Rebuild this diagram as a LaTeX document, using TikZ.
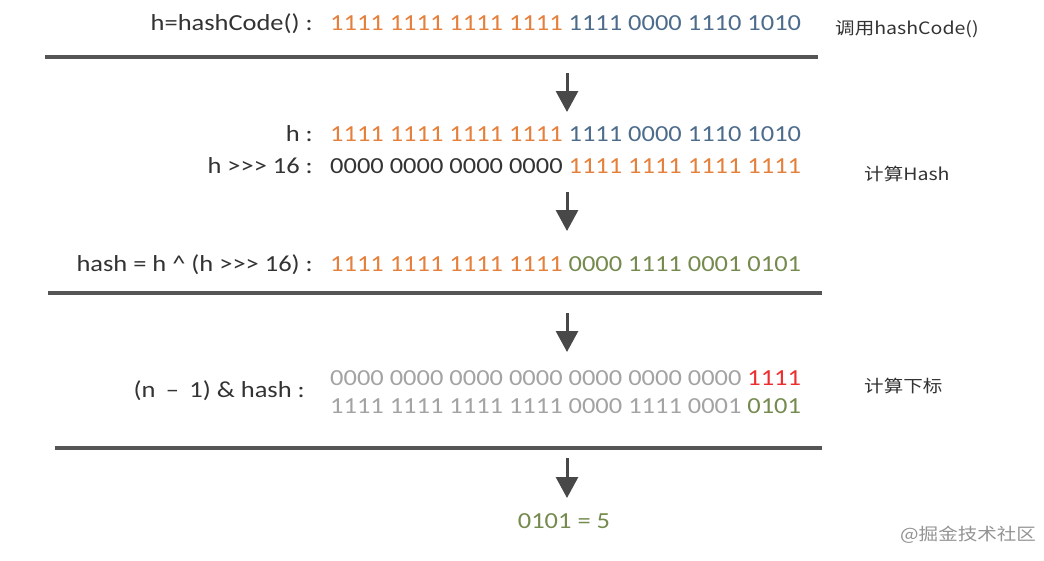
\documentclass[tikz,border=0pt]{standalone}
\usepackage{fontspec}
\setmainfont{Carlito}
\newfontfamily\cjk{Noto Sans CJK SC}
\usetikzlibrary{arrows.meta}
\definecolor{orng}{HTML}{E5803C}
\definecolor{blu}{HTML}{4D6C8C}
\definecolor{grn}{HTML}{758A4E}
\definecolor{gry}{HTML}{A3A3A3}
\definecolor{redd}{HTML}{EE2E2E}
\definecolor{txt}{HTML}{333333}
\definecolor{rule}{HTML}{555555}
\newcommand{\hs}[1]{\scalebox{1.15}[1]{#1}}
\newcommand{\ggg}{>\kern0pt>\kern0pt>}
\begin{document}
\begin{tikzpicture}[x=1pt,y=-1pt,
  lbl/.style={anchor=base east,inner sep=0pt,text=txt,font=\fontsize{23}{26}\selectfont},
  bits/.style={anchor=base west,inner sep=0pt,font=\fontsize{23}{26}\selectfont},
  note/.style={anchor=base west,inner sep=0pt,text=txt,font=\cjk\fontsize{17}{20}\selectfont},
  sep/.style={draw=rule,line width=3.2pt},
  down/.style={draw=rule!85!black,line width=3pt,-{Triangle[width=22pt,length=21pt]}}]
\useasboundingbox (0,0) rectangle (1044,560);
% row 1
\node[lbl] (l1) at (313,30) {\hs{h=hashCode() :}};
\node[bits] (b1) at (330,30) {\hs{\color{orng}1111 1111 1111 1111 \color{blu}1111 0000 1110 1010}};
\node[note] (n1) at (835,34) {\hs{调用hashCode()}};
\coordinate (s1a) at (45,57); \coordinate (s1b) at (818,57);
\draw[sep] (s1a) -- (s1b);
\coordinate (a1s) at (567,73); \coordinate (a1e) at (567,112);
\draw[down] (a1s) -- (a1e);
% rows h and h>>>16
\node[lbl] (l2) at (313,141) {\hs{h :}};
\node[bits] (b2) at (330,141) {\hs{\color{orng}1111 1111 1111 1111 \color{blu}1111 0000 1110 1010}};
\node[lbl] (l3) at (313,173) {\hs{h \ggg{} 16 :}};
\node[bits] (b3) at (330,173) {\hs{\color{txt}0000 0000 0000 0000 \color{orng}1111 1111 1111 1111}};
\node[note] (n2) at (864,180) {\hs{计算Hash}};
\coordinate (a2s) at (567,192); \coordinate (a2e) at (567,231);
\draw[down] (a2s) -- (a2e);
% hash row
\node[lbl] (l4) at (313,271) {\hs{hash = h \^{} (h \ggg{} 16) :}};
\node[bits] (b4) at (330,271) {\hs{\color{orng}1111 1111 1111 1111 \color{grn}0000 1111 0001 0101}};
\coordinate (s2a) at (48,293); \coordinate (s2b) at (822,293);
\draw[sep] (s2a) -- (s2b);
\coordinate (a3s) at (567,313); \coordinate (a3e) at (567,352);
\draw[down] (a3s) -- (a3e);
% index rows
\node[lbl] (l5) at (305,397) {\hs{(n \,–\, 1) \& hash :}};
\node[bits] (b5) at (330,385) {\hs{\color{gry}0000 0000 0000 0000 0000 0000 0000 \color{redd}1111}};
\node[bits] (b6) at (330,413) {\hs{\color{gry}1111 1111 1111 1111 0000 1111 0001 \color{grn}0101}};
\node[note] (n3) at (864,392) {\hs{计算下标}};
\coordinate (s3a) at (55,448); \coordinate (s3b) at (822,448);
\draw[sep] (s3a) -- (s3b);
\coordinate (a4s) at (567,458); \coordinate (a4e) at (567,498);
\draw[down] (a4s) -- (a4e);
% result
\node[bits,anchor=base] (r) at (564,528) {\hs{\color{grn}0101 = 5}};
\node[note,text=gry!90!black,font=\cjk\fontsize{17}{20}\selectfont] (wm) at (900,540) {\hs{@掘金技术社区}};
\end{tikzpicture}
\end{document}
